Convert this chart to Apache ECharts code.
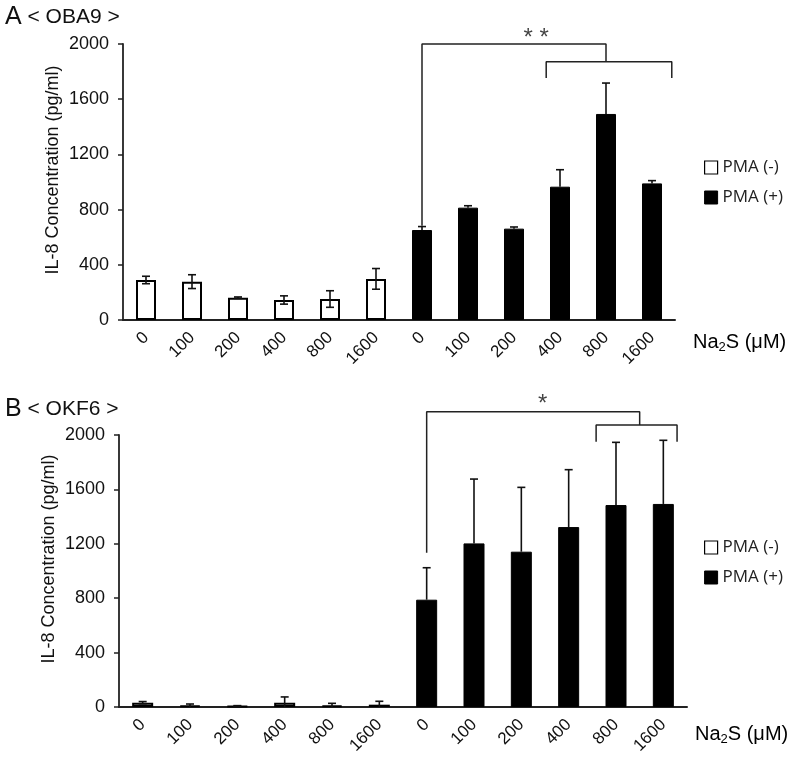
<!DOCTYPE html>
<html>
<head>
<meta charset="utf-8">
<script src="https://cdn.jsdelivr.net/npm/echarts@6/dist/echarts.min.js"></script>
<style>
html,body{margin:0;padding:0;background:#fff;}
#chart{width:800px;height:761px;}
</style>
</head>
<body>
<div id="chart"></div>
<script>
// ---- data ----
var categories = ['0','100','200','400','800','1600','0','100','200','400','800','1600'];
var yTicks = [0, 400, 800, 1200, 1600, 2000];
var seriesNames = ['PMA (-)', 'PMA (+)'];

// Panel A (OBA9)
var A_minus     = [290, 278, 162, 145, 152, 298];
var A_minus_err = [27, 50, 5, 30, 60, 75];
var A_plus      = [652, 814, 662, 966, 1493, 990];
var A_plus_err  = [25, 14, 12, 123, 224, 20];

// Panel B (OKF6)
var B_minus     = [32, 10, 7, 32, 12, 17];
var B_minus_err = [8, 12, 3, 42, 15, 25];
var B_plus      = [789, 1203, 1142, 1323, 1485, 1493];
var B_plus_err  = [235, 473, 473, 422, 461, 468];

// significance brackets (category-index x, value y)
var A_bracket1 = [[6, 683], [6, 2000], [10, 2000], [10, 1872]];
var A_bracket2 = [[8.7, 1754], [8.7, 1872], [11.43, 1872], [11.43, 1754]];
var A_star = [[8.48, 2043, '* *']];
var B_bracket1 = [[6, 1135], [6, 2171], [10.5, 2171], [10.5, 2074]];
var B_bracket2 = [[9.58, 1951], [9.58, 2074], [11.29, 2074], [11.29, 1951]];
var B_star = [[8.45, 2228, '*']];

// ---- helpers ----
function padLeft(arr){ return arr.concat(['-','-','-','-','-','-']); }
function padRight(arr){ return ['-','-','-','-','-','-'].concat(arr); }
function errData(vals, errs, offset, two){
  return vals.map(function(v,i){ return [i+offset, v, errs[i], two ? 1 : 0]; });
}
function renderErr(params, api){
  var x = api.value(0), v = api.value(1), e = api.value(2), two = api.value(3);
  var top = api.coord([x, v + e]);
  var bot = api.coord([x, two ? Math.max(v - e, 0) : v]);
  var hw = 4;
  var style = {stroke:'#111', lineWidth:1.6, fill:null};
  var ch = [
    {type:'line', shape:{x1:top[0], y1:top[1], x2:bot[0], y2:bot[1]}, style:style},
    {type:'line', shape:{x1:top[0]-hw, y1:top[1], x2:top[0]+hw, y2:top[1]}, style:style}
  ];
  if (two && v - e > 0) {
    ch.push({type:'line', shape:{x1:bot[0]-hw, y1:bot[1], x2:bot[0]+hw, y2:bot[1]}, style:style});
  }
  return {type:'group', children:ch};
}

var axisFont = 'Liberation Sans, Arial, sans-serif';
var legendFont = 'Open Sans, sans-serif';

function yAxisDef(gi){
  return {
    type:'value', gridIndex:gi, min:0, max:2000, interval:400, position:'left',
    name:'IL-8 Concentration (pg/ml)', nameLocation:'middle', nameGap:61, nameMoveOverlap:false,
    nameTextStyle:{fontFamily:axisFont, fontSize:18, color:'#111', padding:[0,0,0,24]},
    axisLine:{show:true, onZero:false, lineStyle:{color:'#222', width:1.8}},
    axisTick:{show:true, inside:false, length:5, lineStyle:{color:'#222', width:1.5}},
    axisLabel:{fontFamily:axisFont, fontSize:18, color:'#111', margin:14,
      formatter:function(v){ return yTicks.indexOf(v) >= 0 ? String(v) : ''; }},
    splitLine:{show:false}
  };
}
function xCatDef(gi){
  return {
    type:'category', gridIndex:gi, data:categories, position:'bottom',
    axisLine:{show:true, onZero:false, lineStyle:{color:'#222', width:2}},
    axisTick:{show:false},
    axisLabel:{fontFamily:axisFont, fontSize:17, color:'#111', rotate:45, margin:15, interval:0}
  };
}
function xValDef(gi){
  return {type:'value', gridIndex:gi, min:-0.5, max:11.5, show:false, position:'top',
    axisLine:{show:false, onZero:false}};
}

var whiteStyle = {color:'#fff', borderColor:'#000', borderWidth:2};
var blackStyle = {color:'#000', borderColor:'#000', borderWidth:1};

function panelSeries(gi, minus, minusErr, plus, plusErr, br1, br2, star, bw){
  var xc = gi*2, xv = gi*2+1;
  var lineStyle = {color:'#222', width:1.5};
  return [
    {name:seriesNames[0], type:'bar', xAxisIndex:xc, yAxisIndex:gi, stack:'s'+gi,
     barWidth:bw, data:padLeft(minus), itemStyle:whiteStyle, silent:true},
    {name:seriesNames[1], type:'bar', xAxisIndex:xc, yAxisIndex:gi, stack:'s'+gi,
     barWidth:bw, data:padRight(plus), itemStyle:blackStyle, silent:true},
    {type:'custom', xAxisIndex:xc, yAxisIndex:gi, renderItem:renderErr, z:5, silent:true,
     data:errData(minus, minusErr, 0, true)},
    {type:'custom', xAxisIndex:xc, yAxisIndex:gi, renderItem:renderErr, z:5, silent:true,
     data:errData(plus, plusErr, 6, false)},
    {type:'line', xAxisIndex:xv, yAxisIndex:gi, data:br1, symbol:'none', clip:false,
     lineStyle:lineStyle, silent:true, z:6},
    {type:'line', xAxisIndex:xv, yAxisIndex:gi, data:br2, symbol:'none', clip:false,
     lineStyle:lineStyle, silent:true, z:6},
    {type:'scatter', xAxisIndex:xv, yAxisIndex:gi, data:star, symbolSize:1, clip:false,
     itemStyle:{color:'rgba(0,0,0,0)'}, silent:true, z:7,
     label:{show:true, position:'inside', formatter:function(p){ return p.data[2]; },
       fontFamily:axisFont, fontSize:24, color:'#111'}}
  ];
}

function legendDef(top){
  return {
    left:699, top:top, orient:'vertical', itemWidth:13, itemHeight:13, itemGap:13,
    selectedMode:false, icon:'rect',
    textStyle:{fontFamily:legendFont, fontSize:17, color:'#222', lineHeight:17},
    data:[
      {name:seriesNames[0], itemStyle:{color:'#fff', borderColor:'#000', borderWidth:1.2}},
      {name:seriesNames[1], itemStyle:{color:'#000', borderColor:'#000', borderWidth:1}}
    ]
  };
}

var titleRich = {
  a:{fontFamily:axisFont, fontSize:25, color:'#111', fontWeight:'normal'},
  b:{fontFamily:axisFont, fontSize:21, color:'#111', fontWeight:'normal'}
};
var na2sRich = {
  t:{fontFamily:axisFont, fontSize:20, color:'#111'},
  s:{fontFamily:axisFont, fontSize:13, color:'#111', verticalAlign:'bottom', padding:[10,0,0,0]}
};

var chart = echarts.init(document.getElementById('chart'), null, {renderer:'canvas'});
chart.setOption({
  animation:false,
  backgroundColor:'#fff',
  title:[
    {text:'{a|A}{b| < OBA9 >}', left:0, top:0, textStyle:{fontWeight:'normal', rich:titleRich}},
    {text:'{a|B}{b| < OKF6 >}', left:0, top:392, textStyle:{fontWeight:'normal', rich:titleRich}}
  ],
  legend:[legendDef(154), legendDef(534)],
  grid:[
    {left:123, right:125, top:44, height:276},
    {left:119, right:113, top:435, height:272}
  ],
  xAxis:[xCatDef(0), xValDef(0), xCatDef(1), xValDef(1)],
  yAxis:[yAxisDef(0), yAxisDef(1)],
  graphic:[
    {type:'text', left:693, top:332, style:{text:'{t|Na}{s|2}{t|S (μM)}', rich:na2sRich}},
    {type:'text', left:695, top:724, style:{text:'{t|Na}{s|2}{t|S (μM)}', rich:na2sRich}}
  ],
  series:[].concat(
    panelSeries(0, A_minus, A_minus_err, A_plus, A_plus_err, A_bracket1, A_bracket2, A_star, 20),
    panelSeries(1, B_minus, B_minus_err, B_plus, B_plus_err, B_bracket1, B_bracket2, B_star, 21)
  )
});
</script>
</body>
</html>
